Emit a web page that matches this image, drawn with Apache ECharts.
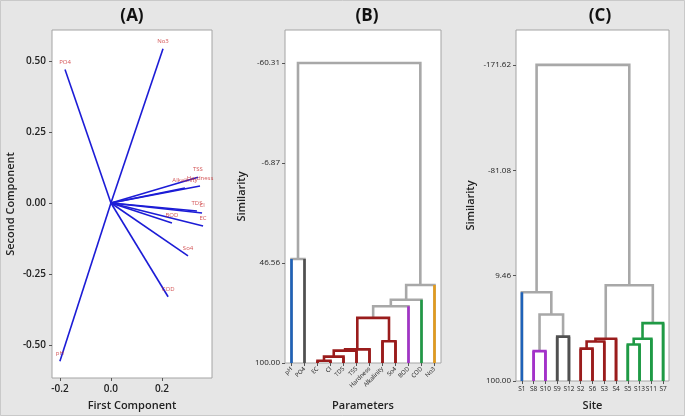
<!DOCTYPE html>
<html><head><meta charset="utf-8">
<script src="https://cdn.jsdelivr.net/npm/echarts@6/dist/echarts.min.js"></script>
<style>html,body{margin:0;padding:0;background:#e6e6e6}#c{width:685px;height:416px}</style>
</head><body><div id="c"></div>
<script>
// ---------- Panel A: PCA loading vectors ----------
const A_params = ['PO4','No3','TSS','Hardness','Alkalinity','TDS','Cl','BOD','EC','So4','COD','pH'];
const A_pc1 = [-0.180, 0.204, 0.341, 0.349, 0.290, 0.337, 0.357, 0.239, 0.361, 0.302, 0.224, -0.200];
const A_pc2 = [0.470, 0.543, 0.091, 0.060, 0.053, -0.028, -0.035, -0.070, -0.081, -0.186, -0.330, -0.557];
const A_xTicks = [-0.2, 0.0, 0.2];
const A_yTicks = [-0.50, -0.25, 0.00, 0.25, 0.50];

// ---------- Panel B: dendrogram of parameters ----------
const B_leaves = ['pH','PO4','EC','Cl','TDS','TSS','Hardness','Alkalinity','So4','BOD','COD','No3'];
// merges: [childA, childB, similarity]; node ids: leaves 0..11, merges 12..
const B_merges = [
  [0, 1, 44.4],
  [2, 3, 98.8],
  [13, 4, 96.6],
  [14, 5, 93.4],
  [15, 6, 92.7],
  [7, 8, 88.4],
  [16, 17, 75.9],
  [18, 9, 69.7],
  [19, 10, 66.2],
  [20, 11, 58.3],
  [12, 21, -60.31]
];
const B_yTicks = [-60.31, -6.87, 46.56, 100.00];

// ---------- Panel C: dendrogram of sites ----------
const C_leaves = ['S1','S8','S10','S9','S12','S2','S6','S3','S4','S5','S13','S11','S7'];
const C_merges = [
  [1, 2, 74.3],
  [3, 4, 61.9],
  [13, 14, 42.8],
  [0, 15, 23.7],
  [5, 6, 72.2],
  [17, 7, 66.0],
  [18, 8, 63.7],
  [9, 10, 68.6],
  [20, 11, 63.7],
  [21, 12, 50.3],
  [19, 22, 17.7],
  [16, 23, -171.62]
];
const C_yTicks = [-171.62, -81.08, 9.46, 100.00];

// ---------- styles ----------
const COL = {blue:'#1f62b8', dark:'#505050', red:'#9a1c1c', purple:'#a332c9', green:'#1f9a45', orange:'#e39b1c', gray:'#a8a8a8'};
const B_leafColor = ['blue','dark','red','red','red','red','red','red','red','purple','green','orange'];
const C_leafColor = ['blue','purple','purple','dark','dark','red','red','red','red','green','green','green','green'];
const FONT = 'Open Sans';

function dendroSegments(leaves, merges, leafColor){
  const n = leaves.length;
  const x = [], h = [], col = [], parentH = [];
  for (let i=0;i<n;i++){ x[i]=i; h[i]=100; col[i]=leafColor[i]; }
  merges.forEach((m,k)=>{
    const id = n+k, a=m[0], b=m[1];
    x[id]=(x[a]+x[b])/2; h[id]=m[2];
    col[id] = (col[a]===col[b] && col[a]!=='gray') ? col[a] : 'gray';
    parentH[a]=m[2]; parentH[b]=m[2];
  });
  const segs = [];
  const order = merges.map((m,k)=>k).sort((p,q)=> (col[n+p]==='gray'?0:1) - (col[n+q]==='gray'?0:1));
  order.forEach(k=>{
    const m = merges[k], id=n+k, a=m[0], b=m[1];
    segs.push({coords:[[x[a],h[a]],[x[a],h[id]],[x[b],h[id]],[x[b],h[b]]], lineStyle:{color:COL[col[id]]}});
  });
  for (let i=0;i<n;i++){
    segs.push({coords:[[x[i],100],[x[i],parentH[i]]], lineStyle:{color:COL[col[i]]}});
  }
  return segs;
}

const tickStyle = {show:true, inside:false, length:3, lineStyle:{color:'#555'}};
const noLine = {show:false, onZero:false};
const nameStyle = {fontFamily:FONT, fontSize:11, fontWeight:600, color:'#222'};

const option = {
  backgroundColor:'#e6e6e6',
  animation:false,
  textStyle:{fontFamily:FONT},
  title:[
    {text:'(A)', left:127, top:3, textAlign:'center', textStyle:{fontSize:17, fontWeight:'bold', color:'#111', fontFamily:FONT}},
    {text:'(B)', left:362, top:3, textAlign:'center', textStyle:{fontSize:17, fontWeight:'bold', color:'#111', fontFamily:FONT}},
    {text:'(C)', left:595, top:3, textAlign:'center', textStyle:{fontSize:17, fontWeight:'bold', color:'#111', fontFamily:FONT}}
  ],
  graphic:[{type:'rect', shape:{x:0.5,y:0.5,width:684,height:415}, style:{fill:'none', stroke:'#c9c9c9', lineWidth:1}, silent:true}],
  grid:[
    {left:52, top:30, width:160, height:349, show:true, backgroundColor:'#fff', borderColor:'#a4a4a4', borderWidth:1},
    {left:285, top:30, width:156, height:334, show:true, backgroundColor:'#fff', borderColor:'#a4a4a4', borderWidth:1},
    {left:516, top:30, width:153, height:352, show:true, backgroundColor:'#fff', borderColor:'#a4a4a4', borderWidth:1}
  ],
  xAxis:[
    {gridIndex:0, type:'value', min:-0.231, max:0.396, splitLine:{show:false}, axisLine:noLine,
     axisTick:Object.assign({customValues:A_xTicks}, tickStyle),
     axisLabel:{customValues:A_xTicks, formatter:v=>v.toFixed(1), fontSize:10, color:'#222', fontWeight:600, margin:6},
     name:'First Component', nameLocation:'middle', nameGap:22, nameTextStyle:nameStyle},
    {gridIndex:1, type:'value', min:-0.5, max:B_leaves.length-0.5, splitLine:{show:false}, axisLine:noLine,
     axisTick:Object.assign({customValues:B_leaves.map((s,i)=>i)}, tickStyle),
     axisLabel:{customValues:B_leaves.map((s,i)=>i), formatter:v=>B_leaves[Math.round(v)], rotate:45, fontSize:6, color:'#222', margin:5},
     name:'Parameters', nameLocation:'middle', nameGap:37, nameTextStyle:nameStyle},
    {gridIndex:2, type:'value', min:-0.5, max:C_leaves.length-0.5, splitLine:{show:false}, axisLine:noLine,
     axisTick:Object.assign({customValues:C_leaves.map((s,i)=>i)}, tickStyle),
     axisLabel:{customValues:C_leaves.map((s,i)=>i), formatter:v=>C_leaves[Math.round(v)], fontSize:6.5, color:'#222', margin:5},
     name:'Site', nameLocation:'middle', nameGap:19, nameTextStyle:nameStyle}
  ],
  yAxis:[
    {gridIndex:0, type:'value', min:-0.616, max:0.609, splitLine:{show:false}, axisLine:noLine,
     axisTick:Object.assign({customValues:A_yTicks}, tickStyle),
     axisLabel:{customValues:A_yTicks, formatter:v=>v.toFixed(2), fontSize:10, color:'#222', fontWeight:600, margin:6},
     name:'Second Component', nameLocation:'middle', nameGap:36, nameTextStyle:nameStyle},
    {gridIndex:1, type:'value', inverse:true, min:-77.95, max:100, splitLine:{show:false}, axisLine:noLine,
     axisTick:Object.assign({customValues:B_yTicks}, tickStyle),
     axisLabel:{customValues:B_yTicks, formatter:v=>v.toFixed(2), fontSize:8, color:'#222', margin:5},
     name:'Similarity', nameLocation:'middle', nameGap:38, nameTextStyle:nameStyle},
    {gridIndex:2, type:'value', inverse:true, min:-201.6, max:100, splitLine:{show:false}, axisLine:noLine,
     axisTick:Object.assign({customValues:C_yTicks}, tickStyle),
     axisLabel:{customValues:C_yTicks, formatter:v=>v.toFixed(2), fontSize:8, color:'#222', margin:5},
     name:'Similarity', nameLocation:'middle', nameGap:40, nameTextStyle:nameStyle}
  ],
  series:[
    {type:'lines', coordinateSystem:'cartesian2d', xAxisIndex:0, yAxisIndex:0,
     lineStyle:{color:'#1c1cd6', width:1.6, opacity:1},
     data:A_params.map((p,i)=>({coords:[[0,0],[A_pc1[i],A_pc2[i]]]}))},
    {type:'scatter', xAxisIndex:0, yAxisIndex:0, symbolSize:1, itemStyle:{color:'rgba(0,0,0,0)'},
     label:{show:true, position:'top', distance:4, formatter:p=>A_params[p.dataIndex], fontSize:6, color:'#c8282a', fontFamily:FONT},
     labelLayout:{hideOverlap:false},
     data:A_params.map((p,i)=>[A_pc1[i],A_pc2[i]])},
    {type:'lines', coordinateSystem:'cartesian2d', xAxisIndex:1, yAxisIndex:1, polyline:true,
     lineStyle:{width:2.6, opacity:1, join:'miter', cap:'butt'},
     data:dendroSegments(B_leaves, B_merges, B_leafColor)},
    {type:'lines', coordinateSystem:'cartesian2d', xAxisIndex:2, yAxisIndex:2, polyline:true,
     lineStyle:{width:2.6, opacity:1, join:'miter', cap:'butt'},
     data:dendroSegments(C_leaves, C_merges, C_leafColor)}
  ]
};
const chart = echarts.init(document.getElementById('c'), null, {renderer:'canvas'});
chart.setOption(option);
</script></body></html>
